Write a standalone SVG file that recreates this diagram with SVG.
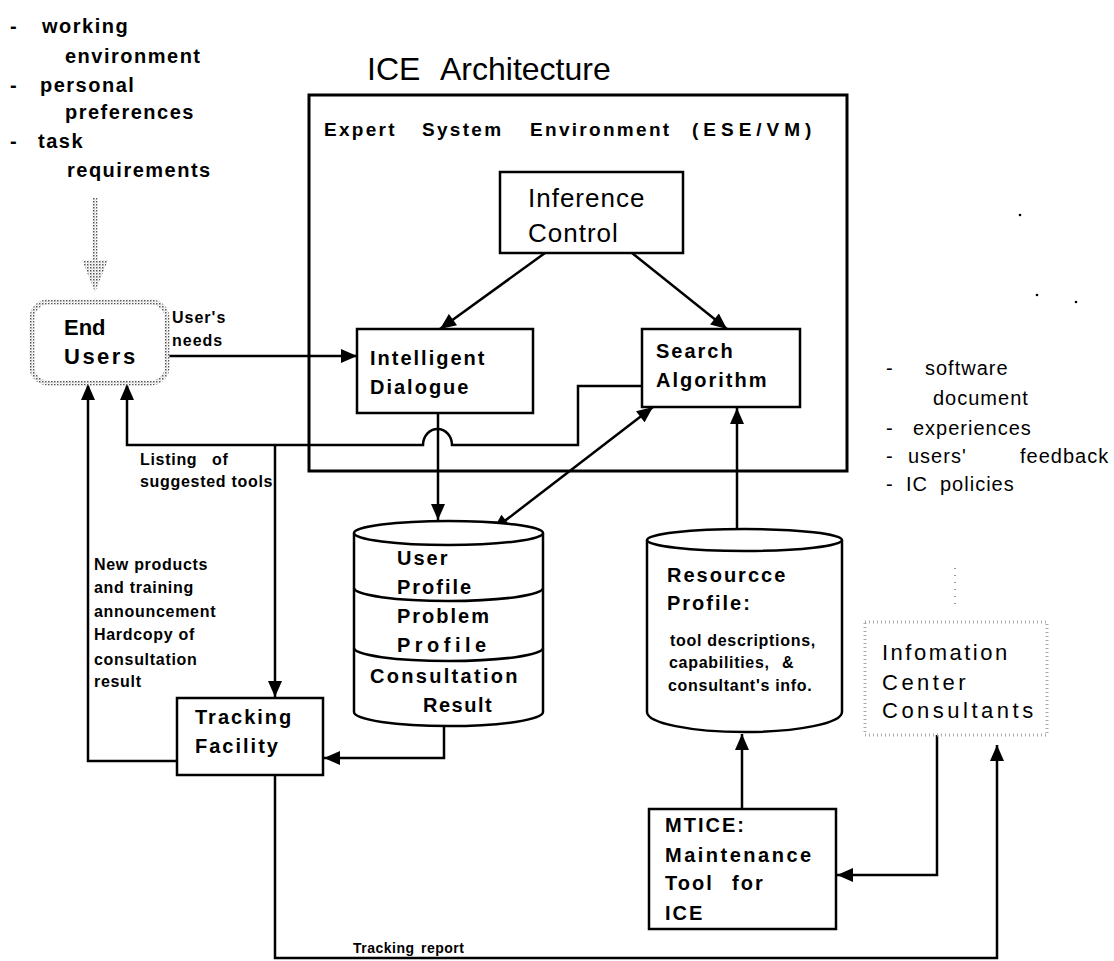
<svg xmlns="http://www.w3.org/2000/svg" width="1114" height="961" viewBox="0 0 1114 961">
<defs>
<style>
text{font-family:"Liberation Sans",Arial,sans-serif;fill:#000}
.b{font-weight:bold}
.t20{font-size:20px;font-weight:bold;letter-spacing:1.5px}
.r20{font-size:20px;letter-spacing:1px}
.s16{font-size:16px;font-weight:bold;letter-spacing:0.7px}
.box{fill:#fff;stroke:#000;stroke-width:2.5}
.c{fill:none;stroke:#000;stroke-width:2.5}
.a{marker-end:url(#ah)}
</style>
<pattern id="stip" width="3" height="3" patternUnits="userSpaceOnUse">
<rect width="3" height="3" fill="#fff"/>
<rect x="0" y="0" width="1.5" height="1.5" fill="#555"/>
<rect x="1.5" y="1.5" width="1" height="1" fill="#aaa"/>
</pattern>
<marker id="ah" viewBox="0 0 16 14" refX="16" refY="7" markerWidth="17" markerHeight="14" markerUnits="userSpaceOnUse" orient="auto-start-reverse">
<path d="M0,0 L16,7 L0,14 z" fill="#000"/>
</marker>
</defs>
<rect width="1114" height="961" fill="#fff"/>

<g id="title">
<text x="367" y="80" style="font-size:32px">ICE</text>
<text x="440" y="80" style="font-size:32px">Architecture</text>
</g>

<g id="user-factors" class="t20">
<text x="10" y="33">-</text><text x="42" y="33">working</text>
<text x="65" y="63">environment</text>
<text x="10" y="92">-</text><text x="40" y="92">personal</text>
<text x="65" y="119">preferences</text>
<text x="10" y="148">-</text><text x="38" y="148">task</text>
<text x="67" y="177">requirements</text>
</g>

<g id="resource-factors" class="r20">
<text x="886" y="375">-</text><text x="925" y="375">software</text>
<text x="933" y="405">document</text>
<text x="886" y="435">-</text><text x="913" y="435">experiences</text>
<text x="886" y="463">-</text><text x="908" y="463">users'</text><text x="1020" y="463">feedback</text>
<text x="886" y="491">-</text><text x="906" y="491">IC</text><text x="940" y="491">policies</text>
</g>

<g id="specks" fill="#000">
<circle cx="1020" cy="215" r="1.3"/>
<circle cx="1037" cy="295" r="1.3"/>
<circle cx="1076" cy="302" r="1.3"/>
<circle cx="763" cy="703" r="0.9"/>
</g>

<g id="ese">
<rect x="309" y="95" width="538" height="376" fill="none" stroke="#000" stroke-width="3"/>
<text class="b" style="font-size:19px;letter-spacing:2.3px" y="136"><tspan x="324">Expert</tspan><tspan x="422">System</tspan><tspan x="530">Environment</tspan><tspan x="692" style="letter-spacing:5px">(ESE/VM)</tspan></text>
</g>

<g id="connectors">
<path class="c a" d="M167,356 H357"/>
<path class="c a" d="M545,253 L440,329"/>
<path class="c a" d="M632,253 L727,329"/>
<path class="c a" d="M438,413 V520"/>
<path class="c a" d="M653,407 L493,530" marker-start="url(#ah)"/>
<path class="c a" d="M642,386 H578 V445 H452 A14.5,16 0 0 0 423,445 H127 V384"/>
<path class="c a" d="M275,445 V697"/>
<path class="c a" d="M444,725 V758 H324"/>
<path class="c a" d="M177,761 H88 V384"/>
<path class="c a" d="M737,529 V408"/>
<path class="c a" d="M742,809 V734"/>
<path class="c a" d="M937,735 V875 H837"/>
<path class="c a" d="M275,775 V958 H997 V745"/>
<path d="M95,198 V262" fill="none" stroke="url(#stip)" stroke-width="5"/>
<path d="M82,260 L108,260 L95,292 z" fill="url(#stip)"/>
<path d="M955,568 V606" fill="none" stroke="#999" stroke-width="2" stroke-dasharray="1,6"/>
</g>

<g id="labels">
<text class="b" x="172" y="323" style="font-size:16px;letter-spacing:1px">User's</text>
<text class="b" x="172" y="346" style="font-size:16px;letter-spacing:1px">needs</text>
<text class="s16" x="140" y="465">Listing<tspan x="212">of</tspan></text>
<text class="s16" x="140" y="487">suggested tools</text>
<text class="s16" x="94" y="570">New products</text>
<text class="s16" x="94" y="593">and training</text>
<text class="s16" x="94" y="617">announcement</text>
<text class="s16" x="94" y="640">Hardcopy of</text>
<text class="s16" x="94" y="665">consultation</text>
<text class="s16" x="94" y="687">result</text>
<text class="b" x="353" y="953" style="font-size:14px;letter-spacing:0.5px">Tracking<tspan x="421">report</tspan></text>
</g>

<g id="end-users">
<rect x="32" y="302" width="135" height="81" rx="16" fill="#fff" stroke="url(#stip)" stroke-width="5"/>
<text class="b" x="64" y="335" style="font-size:22px">End</text>
<text class="b" x="64" y="364" style="font-size:22px;letter-spacing:2.5px">Users</text>
</g>

<g id="inference-control">
<rect class="box" x="500" y="172" width="183" height="81"/>
<text x="528" y="207" style="font-size:26px;letter-spacing:1px">Inference</text>
<text x="528" y="242" style="font-size:26px;letter-spacing:1px">Control</text>
</g>

<g id="intelligent-dialogue">
<rect class="box" x="357" y="329" width="176" height="84"/>
<text class="t20" x="370" y="365" style="letter-spacing:2px">Intelligent</text>
<text class="t20" x="370" y="394" style="letter-spacing:2px">Dialogue</text>
</g>

<g id="search-algorithm">
<rect class="box" x="642" y="329" width="158" height="78"/>
<text class="t20" x="656" y="358" style="letter-spacing:2px">Search</text>
<text class="t20" x="656" y="387" style="letter-spacing:2px">Algorithm</text>
</g>

<g id="user-db">
<path d="M354,533 V712 A94.5,14 0 0 0 543,712 V533" fill="#fff" stroke="#000" stroke-width="2.5"/>
<ellipse cx="448.5" cy="533" rx="94.5" ry="12" fill="#fff" stroke="#000" stroke-width="2.5"/>
<path class="c" d="M354,588 A94.5,13 0 0 0 543,588"/>
<path class="c" d="M354,648 A94.5,13 0 0 0 543,648"/>
<text class="t20" x="397" y="565" style="letter-spacing:2px">User</text>
<text class="t20" x="397" y="594" style="letter-spacing:2px">Profile</text>
<text class="t20" x="397" y="623" style="letter-spacing:2px">Problem</text>
<text class="t20" x="397" y="652" style="letter-spacing:4.5px">Profile</text>
<text class="t20" x="370" y="683" style="letter-spacing:2.3px">Consultation</text>
<text class="t20" x="423" y="712">Result</text>
</g>

<g id="resource-db">
<path d="M647,540 V712 A97.5,20 0 0 0 842,712 V540" fill="#fff" stroke="#000" stroke-width="2.5"/>
<ellipse cx="744.5" cy="540" rx="97.5" ry="11" fill="#fff" stroke="#000" stroke-width="2.5"/>
<text class="t20" x="667" y="582" style="letter-spacing:2px">Resourcce</text>
<text class="t20" x="667" y="610" style="letter-spacing:2px">Profile:</text>
<text class="s16" x="670" y="646">tool descriptions,</text>
<text class="s16" x="669" y="668">capabilities,<tspan x="782">&amp;</tspan></text>
<text class="s16" x="668" y="691">consultant's info.</text>
</g>

<g id="tracking-facility">
<rect class="box" x="177" y="698" width="146" height="77"/>
<text class="t20" x="195" y="724" style="letter-spacing:2px">Tracking</text>
<text class="t20" x="195" y="753" style="letter-spacing:2px">Facility</text>
</g>

<g id="mtice">
<rect class="box" x="649" y="809" width="187" height="120"/>
<text class="t20" x="665" y="832" style="letter-spacing:2px">MTICE:</text>
<text class="t20" x="665" y="862" style="letter-spacing:2.5px">Maintenance</text>
<text class="t20" x="665" y="890" style="letter-spacing:2px">Tool<tspan x="732">for</tspan></text>
<text class="t20" x="665" y="920" style="letter-spacing:2px">ICE</text>
</g>

<g id="ic-consultants">
<rect x="865" y="622" width="182" height="113" fill="#fff" stroke="#aaa" stroke-width="3" stroke-dasharray="1,3"/>
<text x="882" y="660" style="font-size:22px;letter-spacing:2.5px">Infomation</text>
<text x="882" y="690" style="font-size:22px;letter-spacing:3.5px">Center</text>
<text x="882" y="718" style="font-size:22px;letter-spacing:3.5px">Consultants</text>
</g>
</svg>
